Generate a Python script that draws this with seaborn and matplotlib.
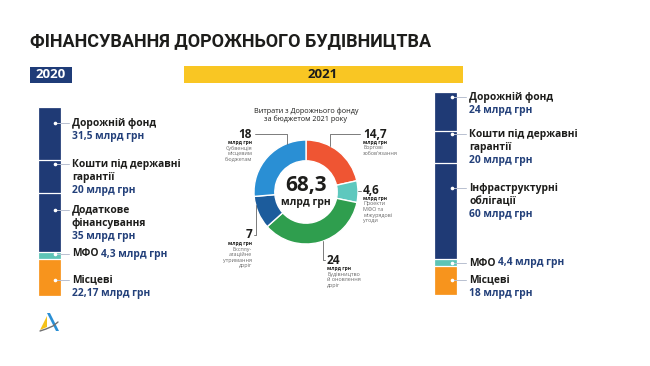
import matplotlib
matplotlib.use("Agg")
import matplotlib.pyplot as plt
import seaborn as sns
import pandas as pd
import numpy as np

sns.set_theme(style="white")
plt.rcParams['font.family'] = ['Open Sans', 'DejaVu Sans']

# ---------------- data ----------------
title = "ФІНАНСУВАННЯ ДОРОЖНЬОГО БУДІВНИЦТВА"
years = ["2020", "2021"]

cats_2020 = ["Дорожній фонд", "Кошти під державні\nгарантії", "Додаткове\nфінансування", "МФО", "Місцеві"]
vals_2020 = [31.5, 20, 35, 4.3, 22.17]
cats_2021 = ["Дорожній фонд", "Кошти під державні\nгарантії", "Інфраструктурні\nоблігації", "МФО", "Місцеві"]
vals_2021 = [24, 20, 60, 4.4, 18]
seg_colors = ["#1f3a75", "#1f3a75", "#1f3a75", "#5ec4b6", "#f7941d"]

donut_title = "Витрати з Дорожнього фонду\nза бюджетом 2021 року"
donut_labels = ["Боргові\nзобов'язання", "Проекти\nМФО та\nміжурядові\nугоди",
                "Будівництво\nй оновлення\nдоріг", "Експлу-\nатаційне\nутримання\nдоріг",
                "Субвенція\nмісцевим\nбюджетам"]
donut_vals = [14.7, 4.6, 24, 7, 18]
donut_colors = ["#ef5533", "#5ec8be", "#2f9e4e", "#1c5c9c", "#2a8fd4"]
donut_total = "68,3"
unit = "млрд грн"

DARK = "#1d1d1b"
NAVY = "#23407a"

def fmt(v):
    return f"{v:g}".replace(".", ",")

W, H = 650, 366
fig = plt.figure(figsize=(6.5, 3.66), dpi=100)
fig.patch.set_facecolor("white")

def px_axes(x0, y0, x1, y1):
    return fig.add_axes([x0 / W, 1 - y1 / H, (x1 - x0) / W, (y1 - y0) / H])

# ---------------- stacked bars (seaborn) ----------------
def stacked_bar(ax, year, vals):
    total = sum(vals)
    cums = np.cumsum(vals[::-1])[::-1]  # cums[0] = total
    for i, c in enumerate(cums):
        df = pd.DataFrame({"year": [year], "cum": [c]})
        sns.barplot(data=df, x="year", y="cum", color=seg_colors[i], saturation=1,
                    width=1.0, edgecolor="white", linewidth=0.9, ax=ax)
    ax.set_xlim(-0.5, 0.5)
    ax.set_ylim(0, total)
    ax.axis("off")

ax20 = px_axes(38, 107, 61, 296)
stacked_bar(ax20, years[0], vals_2020)
ax21 = px_axes(434, 92, 457, 295)
stacked_bar(ax21, years[1], vals_2021)

# ---------------- donut ----------------
cx, cy, r = 306, 192, 52
axd = px_axes(cx - r, cy - r, cx + r, cy + r)
axd.pie(donut_vals, colors=donut_colors, startangle=90, counterclock=False, radius=1,
        wedgeprops=dict(width=0.4, edgecolor="white", linewidth=1.0))
axd.set_xlim(-1, 1)
axd.set_ylim(-1, 1)
axd.set_aspect("equal")

# ---------------- overlay for text ----------------
ov = fig.add_axes([0, 0, 1, 1], facecolor="none")
ov.set_xlim(0, W)
ov.set_ylim(H, 0)
ov.axis("off")

ov.text(30, 41, title, fontsize=13.0, fontweight="bold", color=DARK, va="center", ha="left",
        family=['Roboto', 'Open Sans', 'DejaVu Sans'])

# year headers
ov.add_patch(plt.Rectangle((30, 67), 42, 16, color="#1f3c78", lw=0))
ov.text(51, 75, years[0], color="white", fontsize=9.5, fontweight="bold", ha="center", va="center")
ov.add_patch(plt.Rectangle((184, 66), 279, 17, color="#f9c623", lw=0))
ov.text(323, 75, years[1], color=DARK, fontsize=9.5, fontweight="bold", ha="center", va="center")

LS = 13.5  # line spacing px
FS = 7.4

def bar_label(xbar, xtext, y, name, val, inline=False):
    ov.plot([xbar, xtext - 3], [y, y], color="#b8c0d0", lw=0.7, zorder=3)
    ov.plot([xbar], [y], marker="o", ms=1.6, color="white", zorder=4)
    if inline:
        ov.text(xtext, y, name, fontsize=FS, fontweight="bold", color=DARK, va="center", ha="left")
        ov.text(xtext + 29, y, f"{fmt(val)} {unit}", fontsize=FS, fontweight="bold",
                color=NAVY, va="center", ha="left")
    else:
        lines = name.split("\n")
        for k, ln in enumerate(lines):
            ov.text(xtext, y + k * LS, ln, fontsize=FS, fontweight="bold", color=DARK,
                    va="center", ha="left")
        ov.text(xtext, y + len(lines) * LS, f"{fmt(val)} {unit}", fontsize=FS,
                fontweight="bold", color=NAVY, va="center", ha="left")

ys20 = [123, 164, 210, 254, 280]
for i in range(5):
    bar_label(55, 72, ys20[i], cats_2020[i], vals_2020[i], inline=(i == 3))

ys21 = [97, 134, 188, 263, 280]
for i in range(5):
    bar_label(452, 469, ys21[i], cats_2021[i], vals_2021[i], inline=(i == 3))

# donut texts
ov.text(cx, 115, donut_title, fontsize=5.2, color=DARK, ha="center", va="center", linespacing=1.1)
ov.text(cx, 186, donut_total, fontsize=15, fontweight="bold", color=DARK, ha="center", va="center")
ov.text(cx, 203, unit, fontsize=7.5, fontweight="bold", color=DARK, ha="center", va="center")

def donut_label(xn, yn, ha, val, desc, line):
    ov.plot(line[0], line[1], color="#666666", lw=0.6)
    ov.text(xn, yn, fmt(val), fontsize=8.5, fontweight="bold", color=DARK, ha=ha, va="center")
    ov.text(xn, yn + 8.5, unit, fontsize=3.6, fontweight="bold", color=DARK, ha=ha, va="center")
    ov.text(xn, yn + 11.5, desc, fontsize=3.9, color="#6b6b6b", ha=ha, va="top", linespacing=1.15)

# order: 14.7, 4.6, 24, 7, 18
donut_label(363, 134, "left", donut_vals[0], donut_labels[0], ([330, 330, 360], [146, 134, 134]))
donut_label(363, 190, "left", donut_vals[1], donut_labels[1], ([358, 361], [191, 191]))
donut_label(327, 260, "left", donut_vals[2], donut_labels[2], ([323, 323, 325], [241, 260, 260]))
donut_label(252, 235, "right", donut_vals[3], donut_labels[3], ([256, 256, 254], [205, 235, 235]))
donut_label(252, 134, "right", donut_vals[4], donut_labels[4], ([287, 287, 255], [144, 134, 134]))

# logo
ov.add_patch(plt.Polygon([[40, 330], [47, 316], [47, 327]], color="#f5c21b", lw=0))
ov.add_patch(plt.Polygon([[47, 313], [50, 313], [59, 331], [56, 331]], color="#2a8fd4", lw=0))
ov.plot([40, 46, 53, 58], [331, 329, 326, 322], color="#707070", lw=1.0)

fig.savefig("out.png", dpi=100, facecolor="white")
